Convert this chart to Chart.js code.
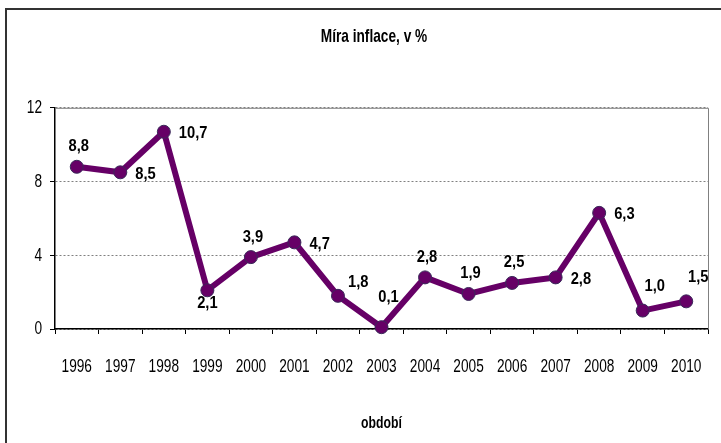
<!DOCTYPE html>
<html>
<head>
<meta charset="utf-8">
<script src="https://cdn.jsdelivr.net/npm/chart.js@4/dist/chart.umd.min.js"></script>
<style>
html,body{margin:0;padding:0;background:#fff;}
#wrap{width:721px;height:443px;position:relative;}
</style>
</head>
<body>
<div id="wrap"><canvas id="c" width="721" height="443"></canvas></div>
<script>
// ---- data ----
const years = ['1996','1997','1998','1999','2000','2001','2002','2003','2004','2005','2006','2007','2008','2009','2010'];
const inflation = [8.8, 8.5, 10.7, 2.1, 3.9, 4.7, 1.8, 0.1, 2.8, 1.9, 2.5, 2.8, 6.3, 1.0, 1.5];
const yTicks = [0, 4, 8, 12];
const chartTitle = 'Míra inflace, v %';
const xAxisTitle = 'období';
// where each value label sits relative to its point
const labelPlacement = ['above','right','right','below','above','right','upRight','high','above','above','above','right','right','highRight','highRight'];

const FONT = "'Liberation Sans', Arial, sans-serif";
const AXIS_SQUEEZE = 0.72;   // condensed lettering like the original
const LABEL_SQUEEZE = 0.92;
let squeeze = AXIS_SQUEEZE;
const placementOffsets = {
  above:[2,-20,'center'], right:[15,2,'left'], below:[0,13,'center'],
  upRight:[10,-13,'left'], high:[7,-30,'center'], highRight:[12,-24,'center']
};

const narrowText = {
  id:'narrowText',
  beforeInit(chart){
    const ctx = chart.ctx;
    const orig = ctx.fillText.bind(ctx);
    ctx.fillText = function(t, x, y, mw){
      ctx.save();
      ctx.translate(x, y);
      ctx.scale(squeeze, 1);
      if (mw !== undefined && mw !== null) orig(t, 0, 0, mw / squeeze); else orig(t, 0, 0);
      ctx.restore();
    };
  },
  afterLayout(chart){
    if (chart.titleBlock) chart.titleBlock.left = 40;
  }
};

const framePlugin = {
  id:'frame',
  beforeDraw(chart){
    const ctx = chart.ctx;
    ctx.save();
    ctx.fillStyle = '#fff';
    ctx.fillRect(0,0,chart.width,chart.height);
    ctx.strokeStyle = '#333';
    ctx.lineWidth = 2;
    ctx.strokeRect(6, 9, chart.width + 50, chart.height + 50);
    ctx.restore();
  },
  beforeDatasetsDraw(chart){
    const {ctx, chartArea:a} = chart;
    ctx.save();
    ctx.strokeStyle = '#808080';
    ctx.lineWidth = 1;
    ctx.beginPath();
    ctx.moveTo(a.left, a.top + 0.5);
    ctx.lineTo(a.right + 0.5, a.top + 0.5);
    ctx.lineTo(a.right + 0.5, a.bottom);
    ctx.stroke();
    ctx.restore();
  }
};

const valueLabels = {
  id:'valueLabels',
  afterDatasetsDraw(chart){
    const ctx = chart.ctx;
    const meta = chart.getDatasetMeta(0);
    const vals = chart.data.datasets[0].data;
    squeeze = LABEL_SQUEEZE;
    ctx.save();
    ctx.font = "bold 16px " + FONT;
    ctx.fillStyle = '#000';
    ctx.textBaseline = 'middle';
    meta.data.forEach((pt, i) => {
      const off = placementOffsets[labelPlacement[i]] || [0,-20,'center'];
      ctx.textAlign = off[2];
      const txt = vals[i].toFixed(1).replace('.', ',');
      ctx.fillText(txt, pt.x + off[0], pt.y + off[1]);
    });
    ctx.restore();
    squeeze = AXIS_SQUEEZE;
  }
};

new Chart(document.getElementById('c'), {
  type:'line',
  data:{
    labels: years,
    datasets:[{
      data: inflation,
      borderColor:'#660066',
      borderWidth:6,
      backgroundColor:'#660066',
      pointBackgroundColor:'#660066',
      pointBorderColor:'#3a2a5a',
      pointBorderWidth:1,
      pointRadius:6.5,
      pointHoverRadius:6.5,
      tension:0,
      clip:false
    }]
  },
  options:{
    responsive:false,
    animation:false,
    devicePixelRatio:1,
    events:[],
    layout:{ padding:{ left:10, right:13, top:8, bottom:8 } },
    plugins:{
      legend:{ display:false },
      tooltip:{ enabled:false },
      title:{
        display:true,
        text: chartTitle,
        color:'#000',
        font:{ family:FONT, size:19, weight:'bold' },
        padding:{ top:17, bottom:60 }
      }
    },
    scales:{
      x:{
        type:'category',
        offset:true,
        grid:{ display:true, offset:true, drawOnChartArea:false, drawTicks:true, tickLength:5, tickColor:'#000', tickWidth:1 },
        border:{ display:true, color:'#000', width:1.5 },
        ticks:{ color:'#000', font:{ family:FONT, size:19 }, padding:21, maxRotation:0, autoSkip:false },
        title:{ display:true, text:xAxisTitle, color:'#000', font:{ family:FONT, size:17, weight:'bold' }, padding:{ top:0, bottom:1 } },
        afterFit(s){ s.height = 106; s.paddingLeft = 0; s.paddingRight = 0; }
      },
      y:{
        min:0, max:12,
        afterBuildTicks(s){ s.ticks = yTicks.map(v => ({ value:v })); },
        grid:{ color:'#808080', drawTicks:true, tickLength:5, tickColor:'#000', tickWidth:1, tickBorderDash:[] },
        border:{ display:true, color:'#000', width:1.5, dash:[2,2] },
        ticks:{ color:'#000', font:{ family:FONT, size:19 }, padding:8 },
        afterFit(s){ s.width = 45; s.paddingTop = 0; s.paddingBottom = 0; }
      }
    }
  },
  plugins:[narrowText, framePlugin, valueLabels]
});
</script>
</body>
</html>
